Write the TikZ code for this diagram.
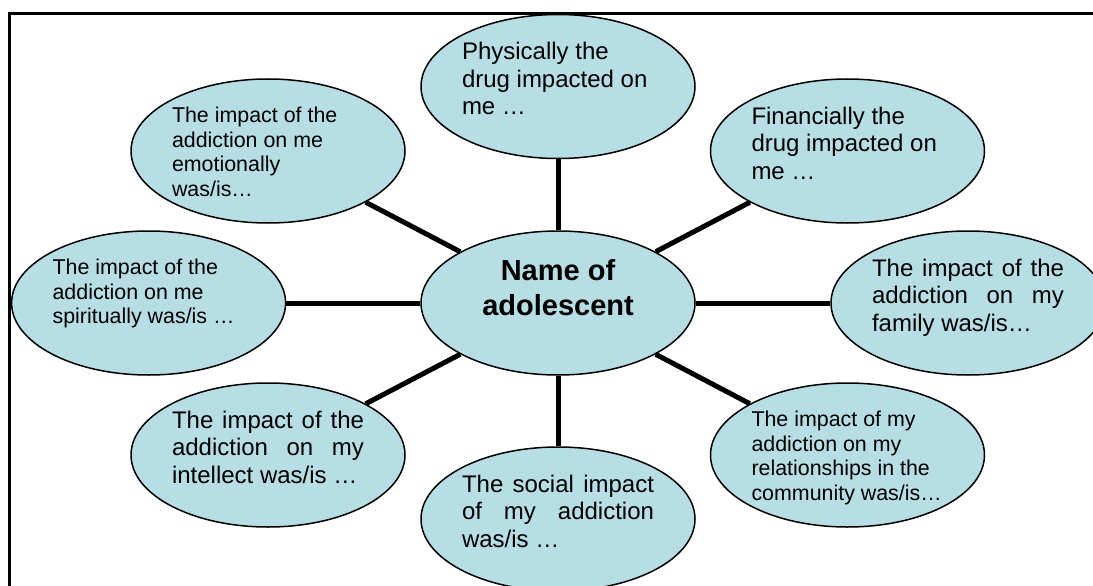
\documentclass[tikz,border=0pt]{standalone}
\usepackage{fontspec}
\setmainfont{Liberation Sans}
\usepackage{xcolor}
\usepackage{tikz}
\usetikzlibrary{shapes.geometric}
\definecolor{bubblefill}{RGB}{183,222,228}
\newcommand{\bigtxt}{\fontsize{24}{27.5}\selectfont}
\newcommand{\smalltxt}{\fontsize{21.4}{24.5}\selectfont}
\newcommand{\bubbletext}[1]{\parbox[c][88pt][t]{192pt}{#1}}

\begin{document}
\begin{tikzpicture}[x=1pt, y=-1pt,
    bubble/.style={ellipse, draw=black, line width=1.5pt, fill=bubblefill,
      minimum width=274pt, minimum height=144pt, inner sep=0pt},
    spoke/.style={line width=5pt}]
    \clip (0,0) rectangle (1093,586);
    \draw[line width=3pt] (9.5,13.8) rectangle (1130,630);
    \node[bubble] (N) at (558,303) {\bubbletext{\centering\fontsize{29}{35}\selectfont\bfseries Name of\\adolescent}};
    \node[bubble] (Ph) at (558,86.5) {\bubbletext{\raggedright\bigtxt Physically the\\drug impacted on\\me …}};
    \node[bubble] (Fi) at (847.5,151) {\bubbletext{\raggedright\bigtxt Financially the\\drug impacted on\\me …}};
    \node[bubble] (Fa) at (968,303) {\bubbletext{\bigtxt The impact of the\linebreak addiction on my\linebreak family was/is…}};
    \node[bubble] (Re) at (847.5,455) {\bubbletext{\raggedright\smalltxt The impact of my\\addiction on my\\relationships in the\\community was/is…}};
    \node[bubble] (So) at (558,519) {\bubbletext{\bigtxt The social impact\linebreak of my addiction\linebreak was/is …}};
    \node[bubble] (In) at (268,455) {\bubbletext{\bigtxt The impact of the\linebreak addiction on my\linebreak intellect was/is …}};
    \node[bubble] (Sp) at (148.6,303) {\bubbletext{\raggedright\smalltxt The impact of the\\addiction on me\\spiritually was/is …}};
    \node[bubble] (Em) at (268,151) {\bubbletext{\raggedright\smalltxt The impact of the\\addiction on me\\emotionally\\was/is…}};
    \path [spoke] (N) edge (Ph);
    \path [spoke] (N) edge (Fi);
    \path [spoke] (N) edge (Fa);
    \path [spoke] (N) edge (Re);
    \path [spoke] (N) edge (So);
    \path [spoke] (N) edge (In);
    \path [spoke] (N) edge (Sp);
    \path [spoke] (N) edge (Em);
\end{tikzpicture}
\end{document}
